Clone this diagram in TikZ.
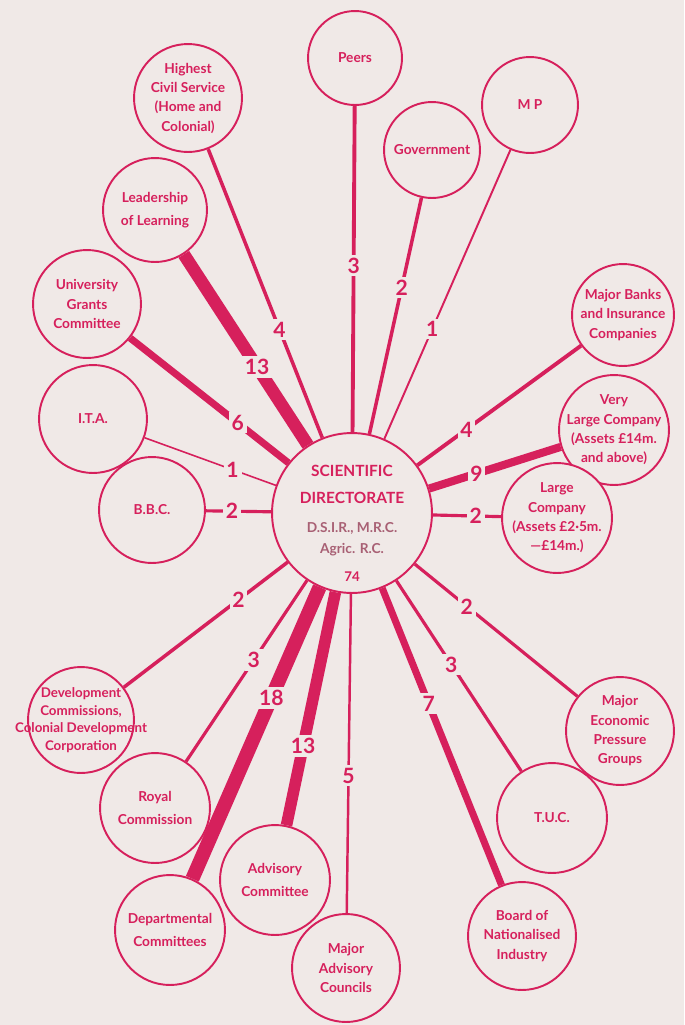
\documentclass[tikz,border=0pt]{standalone}
\usepackage{fontspec}
\setmainfont{Lato}
\usepackage{tikz}
\definecolor{inkred}{RGB}{214,32,92}
\definecolor{paper}{RGB}{240,233,231}
\definecolor{fadedred}{RGB}{168,96,116}

\begin{document}
\begin{tikzpicture}[x=0.02cm, y=-0.02cm,
    org/.style={circle, draw=inkred, line width=1.1pt, fill=paper,
                minimum size=0.04cm*#1, inner sep=0pt},
    txt/.style={text=inkred, align=center,
                font=\bfseries\fontsize{7.8}{11}\selectfont},
    hubtxt/.style={text=inkred, align=center,
                font=\bfseries\fontsize{8.8}{11.8}\selectfont},
    num/.style={fill=paper, text=inkred, inner sep=1.6pt,
                font=\bfseries\fontsize{12}{12}\selectfont},
    lnk/.style={draw=inkred, line width=#1}
]

\path[use as bounding box, fill=paper] (0,0) rectangle (684,1025);

\node[org=80, label={[hubtxt, yshift=-0.2cm]center:{SCIENTIFIC\\[3.5pt]DIRECTORATE\\[5pt]
    {\fontsize{7.8}{10}\selectfont\color{fadedred}D.S.I.R., M.R.C.}\\{\fontsize{7.8}{10}\selectfont\color{fadedred}Agric. R.C.}\\[4pt]{\fontsize{7.6}{9}\selectfont 74}}}] (hub) at (352,513) {};

\node[org=47, label={[txt]center:Peers}] (peers) at (355,58) {};
\node[org=48, label={[txt]center:M P}] (mp) at (530,105) {};
\node[org=48, label={[txt]center:Government}] (govt) at (432,150) {};
\node[org=54, label={[txt]center:{Highest\\Civil Service\\(Home and\\Colonial)}}] (civserv) at (188,98) {};
\node[org=52, label={[txt]center:{Leadership\\[2pt]of Learning}}] (learning) at (155,210) {};
\node[org=54, label={[txt]center:{University\\Grants\\Committee}}] (ugc) at (87,304) {};
\node[org=54, label={[txt]center:I.T.A.}] (ita) at (93,419) {};
\node[org=53, label={[txt]center:B.B.C.}] (bbc) at (152,510) {};
\node[org=51, label={[txt]center:{Major Banks\\and Insurance\\Companies}}] (banks) at (623,315) {};
\node[org=55, label={[txt]center:{Very\\Large Company\\(Assets £14m.\\and above)}}] (vlarge) at (614,430) {};
\node[org=55, label={[txt]center:{Large\\Company\\(Assets £2·5m.\\—£14m.)}}] (large) at (557,518) {};
\node[org=54, label={[txt]center:{Major\\Economic\\Pressure\\Groups}}] (econ) at (620,731) {};
\node[org=55, label={[txt]center:T.U.C.}] (tuc) at (552,818) {};
\node[org=54, label={[txt]center:{Board of\\Nationalised\\Industry}}] (board) at (522,936) {};
\node[org=54, label={[txt]center:{Major\\Advisory\\Councils}}] (councils) at (346,968) {};
\node[org=55, label={[txt]center:{Advisory\\[2pt]Committee}}] (advcomm) at (275,880) {};
\node[org=55, label={[txt]center:{Departmental\\[2pt]Committees}}] (deptcomm) at (170,930) {};
\node[org=55, label={[txt]center:{Royal\\[2pt]Commission}}] (royal) at (155,808) {};
\node[org=53, label={[txt, font=\bfseries\fontsize{7.6}{10}\selectfont]center:{Development\\Commissions,\\Colonial Development\\Corporation}}] (devcomm) at (81,720) {};

\draw[lnk=2.2pt] (peers) -- node[num, pos=0.49]{3} (hub);
\draw[lnk=1.1pt] (mp) -- node[num, pos=0.62]{1} (hub);
\draw[lnk=2pt] (govt) -- node[num, pos=0.38]{2} (hub);
\draw[lnk=2pt] (civserv) -- node[num, pos=0.625]{4} (hub);
\draw[lnk=7.2pt] (learning) -- node[num, pos=0.59]{13} (hub);
\draw[lnk=4pt] (ugc) -- node[num, pos=0.68]{6} (hub);
\draw[lnk=0.9pt] (ita) -- node[num, pos=0.67]{1} (hub);
\draw[lnk=1.8pt] (bbc) -- node[num, pos=0.40]{2} (hub);
\draw[lnk=2.2pt] (banks) -- node[num, pos=0.70]{4} (hub);
\draw[lnk=4.6pt] (vlarge) -- node[num, pos=0.64]{9} (hub);
\draw[lnk=1.8pt] (large) -- node[num, pos=0.37]{2} (hub);
\draw[lnk=1.8pt] (econ) -- node[num, pos=0.68]{2} (hub);
\draw[lnk=1.8pt] (tuc) -- node[num, pos=0.56]{3} (hub);
\draw[lnk=4pt] (board) -- node[num, pos=0.61]{7} (hub);
\draw[lnk=1.4pt] (councils) -- node[num, pos=0.43]{5} (hub);
\draw[lnk=6.6pt] (advcomm) -- node[num, pos=0.34]{13} (hub);
\draw[lnk=8pt] (deptcomm) -- node[num, pos=0.62]{18} (hub);
\draw[lnk=1.8pt] (royal) -- node[num, pos=0.56]{3} (hub);
\draw[lnk=2pt] (devcomm) -- node[num, pos=0.70]{2} (hub);

\end{tikzpicture}
\end{document}
